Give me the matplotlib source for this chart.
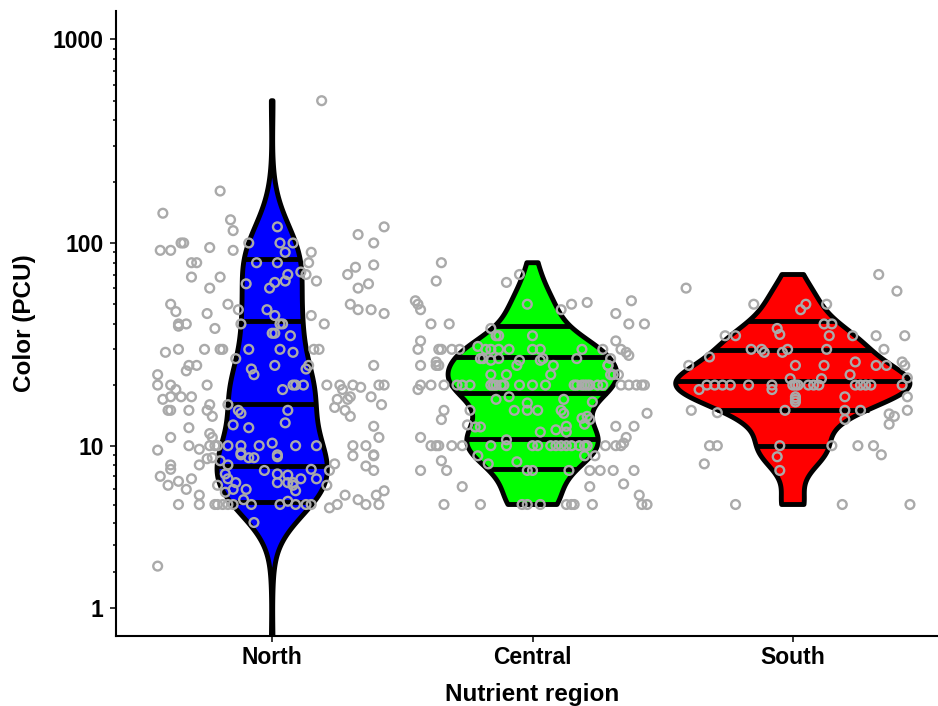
import numpy as np
import matplotlib.pyplot as plt

plt.rcParams['font.family'] = ['Liberation Sans', 'DejaVu Sans']
plt.rcParams['font.weight'] = 'bold'

regions = ['North', 'Central', 'South']
fill_colors = ['#0000FF', '#00FF00', '#FF0000']
quantile_probs = [0.1, 0.25, 0.5, 0.75, 0.9]

# Color (PCU) per sample; jitter = horizontal offset of each dot
north_pcu = [
    500, 180, 140, 130, 115, 120, 92, 92, 100, 100, 95, 92, 100, 100, 100, 90, 90, 110, 100, 120,
    80, 80, 80, 80, 80, 76, 78, 68, 68, 70, 65, 72, 70, 65, 70, 63, 64, 60, 60, 60, 63,
    50, 46, 50, 47, 45, 47, 44, 44, 40, 50, 47, 47, 45, 40, 40, 39, 38, 40, 40, 40, 36, 36, 35,
    29, 30, 30, 30, 30, 30, 30, 29, 30, 30, 27, 25, 24, 22.5, 25, 24, 25, 25, 23.5, 22.5, 20,
    25, 20, 19, 17.5, 20, 17.5, 17, 17.5, 19, 20, 20, 20, 20, 20, 19, 20, 19.5, 20, 20,
    17, 17, 17.5, 15.5, 15, 14, 17.5, 16, 15, 15, 15, 16, 15, 14, 16, 15, 14.5, 15,
    12.3, 12.7, 12.3, 13, 11, 11.5, 11, 12.5, 11, 9.5, 10, 9.6, 10, 10, 10, 10, 10, 9.2,
    10, 10.3, 9, 10, 10, 10, 10, 9,
    8.7, 8.6, 8, 8, 7.6, 7, 6.3, 6.6, 6.8, 6, 5.6, 5, 5, 5, 5, 5, 5, 8.4, 8, 7.2, 6.8, 6.5,
    6, 5.8, 6.3, 5, 9, 8.7, 8.7, 6, 5.3, 5, 4, 7.5, 8.8, 7.2, 6.5, 7.1, 6.5, 6.3, 5.9, 6.8,
    6.5, 5, 5.2, 5, 5, 5, 7.6, 6.8, 6.3, 7.5, 8.1, 4.8, 5, 8.9, 7.9, 7.5, 8.9, 5.6, 5.3, 5,
    5, 5.6, 5.9, 2.2, 0,
]
north_jitter = [
    0.19, -0.20, -0.42, -0.16, -0.15, 0.02, -0.43, -0.39, -0.35, -0.34, -0.24, -0.15, -0.09, 0.03, 0.08, 0.05, 0.15, 0.33, 0.39, 0.43,
    -0.31, -0.29, -0.06, 0.02, 0.14, 0.32, 0.39, -0.31, -0.20, 0.06, 0.05, 0.11, 0.13, 0.17, 0.29, -0.10, 0.01, -0.01, -0.24, 0.33, 0.37,
    -0.39, -0.37, -0.17, -0.13, -0.25, -0.02, 0.01, 0.15, 0.20, 0.30, 0.33, 0.38, 0.43, -0.36, -0.33, -0.36, -0.22, -0.12, 0.03, 0.04, 0.00, 0.01, 0.07,
    -0.41, -0.36, -0.26, -0.20, -0.19, -0.09, 0.03, 0.08, 0.16, 0.18, -0.14, 0.01, -0.08, -0.07, 0.14, 0.13, -0.32, -0.29, -0.33, -0.44, -0.44,
    0.39, -0.39, -0.37, -0.39, -0.25, -0.35, -0.42, -0.31, 0.04, 0.08, 0.09, 0.12, 0.21, 0.26, 0.27, 0.31, 0.34, 0.41, 0.43,
    0.25, 0.29, 0.30, 0.24, 0.28, 0.30, 0.38, 0.42, -0.40, -0.39, -0.32, -0.24, -0.25, -0.23, -0.17, -0.13, -0.12, 0.06,
    -0.32, -0.15, -0.09, 0.05, -0.39, -0.24, -0.23, 0.39, 0.41, -0.44, -0.32, -0.28, -0.24, -0.22, -0.21, -0.17, -0.12, -0.12,
    -0.05, 0.00, 0.02, 0.09, 0.17, 0.31, 0.36, 0.39,
    -0.23, -0.25, -0.28, -0.39, -0.39, -0.43, -0.40, -0.36, -0.31, -0.33, -0.28, -0.28, -0.36, -0.22, -0.21, -0.19, -0.17, -0.20, -0.17, -0.18, -0.17, -0.14,
    -0.15, -0.18, -0.21, -0.15, -0.12, -0.09, -0.07, -0.10, -0.11, -0.08, -0.07, -0.03, 0.02, 0.02, 0.02, 0.06, 0.06, 0.08, 0.09, 0.11,
    0.08, 0.03, 0.06, 0.09, 0.13, 0.15, 0.15, 0.17, 0.21, 0.22, 0.24, 0.22, 0.25, 0.31, 0.36, 0.39, 0.39, 0.28, 0.33, 0.36,
    0.41, 0.40, 0.43, -0.44, 0.00,
]

central_pcu = [
    80, 65, 70, 64, 50, 52, 50, 47, 40, 40, 47, 50, 51, 52, 45, 40, 40, 38, 35, 35, 35, 33, 33,
    30, 30, 30, 30, 30, 31, 30, 30, 30, 30, 30, 30, 30, 30, 30, 29, 28,
    25, 26, 25, 27, 26.5, 27, 26.5, 25, 26.5, 27, 27, 27, 25, 22.5, 22.5, 22.5, 25, 22.5, 22.5,
    20, 20, 20, 20, 20, 20, 20, 20, 20, 20, 20, 20, 20, 20, 20, 20, 20, 20, 20, 20, 20, 20, 20,
    20, 20, 20, 20, 25, 25, 22.5, 27,
    19, 17, 16.5, 17, 17.5, 15, 13.5, 15, 15, 15, 15, 16.3, 15, 14.5, 13.7, 14, 13.5, 12.8, 14.5,
    12.7, 12.4, 12.4, 11.7, 12, 12.5, 11.7, 12.5, 12.5, 11, 10.7, 10, 11, 10.3, 10,
    10, 10, 10, 10, 10, 10, 10, 10, 10, 10, 10, 10, 10, 10, 10, 10, 10, 10,
    8.4, 8.9, 8.1, 8.3, 8.9, 8.9,
    7.5, 7.5, 7.5, 7.5, 7.5, 7.5, 7.5, 7.5, 7.5,
    6.2, 6.2, 6.4, 5.6,
    5, 5, 5, 5, 5, 5, 5, 5, 5, 5, 5,
]
central_jitter = [
    -0.35, -0.37, -0.05, -0.10, -0.02, -0.45, -0.44, -0.43, -0.39, -0.32, 0.11, 0.15, 0.21, 0.38, 0.32, 0.37, 0.43, -0.16, -0.14, -0.13, 0.00, 0.32, -0.43,
    -0.44, -0.36, -0.35, -0.31, -0.28, -0.21, -0.18, -0.16, -0.13, -0.09, 0.00, 0.03, 0.19, 0.27, 0.34, 0.36, 0.37,
    -0.43, -0.37, -0.37, -0.20, -0.16, -0.13, -0.05, -0.06, 0.03, 0.04, 0.17, 0.30, 0.08, -0.16, -0.10, 0.07, 0.29, 0.30, 0.33,
    -0.43, -0.39, -0.34, -0.29, -0.27, -0.24, -0.16, -0.14, -0.12, -0.05, 0.00, 0.05, 0.16, 0.19, 0.20, 0.21, 0.25, 0.27, 0.34, 0.37, 0.40, 0.42, 0.43,
    -0.15, -0.11, 0.17, 0.22, -0.36, 0.29, 0.31, -0.19,
    -0.44, 0.12, 0.23, -0.14, -0.09, -0.34, -0.35, -0.24, -0.07, -0.02, 0.02, -0.02, 0.11, 0.12, 0.19, 0.21, 0.22, 0.20, 0.44,
    -0.25, -0.22, -0.20, 0.03, 0.09, 0.13, 0.13, 0.32, 0.39, -0.43, -0.10, -0.10, 0.36, 0.35, 0.34,
    -0.39, -0.37, -0.36, -0.31, -0.27, -0.16, 0.00, 0.02, 0.07, 0.09, 0.11, 0.13, 0.15, 0.18, 0.20, 0.21, 0.28, 0.32,
    -0.35, -0.21, -0.17, -0.06, 0.20, 0.24,
    -0.43, -0.33, -0.02, 0.00, 0.14, 0.22, 0.26, 0.31, 0.39,
    -0.27, 0.22, 0.35, 0.41,
    -0.34, -0.20, -0.04, -0.02, 0.03, 0.13, 0.15, 0.16, 0.23, 0.42, 0.44,
]

south_pcu = [
    60, 70, 58, 50, 47, 50, 50, 40, 40, 38, 35.5, 35, 35, 35, 35, 35, 35,
    30, 30, 29, 29, 30, 30, 30, 27.5, 25, 25, 25, 26, 25, 25, 26, 25, 21.5, 21.5, 22.5, 21.7,
    20, 20, 20, 20, 20, 20, 20, 20, 20, 20, 20, 20, 20, 20, 20, 20, 20,
    19, 19, 17.5, 17, 16.5, 15, 15, 14.6, 17.5, 15, 15, 13.5, 17.5, 15, 14.4, 14, 12.8,
    10, 10, 10, 10, 10, 10, 9, 8.1, 8.8, 7.5, 5, 5, 5,
]
south_jitter = [
    -0.41, 0.33, 0.40, -0.15, 0.03, 0.05, 0.13, 0.12, 0.15, -0.06, -0.05, -0.26, -0.22, 0.14, 0.23, 0.32, 0.43,
    -0.16, -0.12, -0.11, -0.04, -0.02, 0.13, 0.35, -0.32, -0.40, 0.01, 0.12, 0.24, 0.32, 0.36, 0.42, 0.43, -0.01, 0.11, 0.22, 0.44,
    -0.33, -0.30, -0.27, -0.24, -0.17, -0.08, 0.00, 0.01, 0.02, 0.06, 0.08, 0.10, 0.24, 0.26, 0.28, 0.30, 0.42,
    -0.36, -0.08, 0.01, 0.01, 0.01, -0.03, -0.39, -0.29, 0.20, 0.20, 0.26, 0.20, 0.44, 0.44, 0.37, 0.39, 0.37,
    -0.32, -0.29, -0.05, 0.15, 0.25, 0.31, 0.34, -0.34, -0.06, -0.05, -0.22, 0.19, 0.45,
]

pcu = [north_pcu, central_pcu, south_pcu]
jitter = [north_jitter, central_jitter, south_jitter]


# pseudo-log axis (asinh), like ggplot's pseudo_log_trans
def fwd(y):
    return np.arcsinh(np.asarray(y, dtype=float) / 2.0)


def inv(t):
    return 2.0 * np.sinh(np.asarray(t, dtype=float))


def nrd0(t):
    sd = np.std(t, ddof=1)
    q75, q25 = np.percentile(t, [75, 25])
    lo = min(sd, (q75 - q25) / 1.34)
    if lo <= 0:
        lo = sd
    return 0.9 * lo * len(t) ** -0.2


def kde(values):
    t = fwd(values)
    h = nrd0(t)
    grid = np.linspace(t.min(), t.max(), 512)
    z = (grid[:, None] - t[None, :]) / h
    dens = np.exp(-0.5 * z ** 2).sum(axis=1) / (len(t) * h * np.sqrt(2 * np.pi))
    return grid, dens


fig = plt.figure(figsize=(9.38, 7.06), dpi=100)
ax = fig.add_axes([116 / 938, 1 - 636 / 706, 833 / 938, 625 / 706])
ax.set_yscale('function', functions=(fwd, inv))

dens_all = [kde(v) for v in pcu]
dmax = max(d.max() for _, d in dens_all)

for i, ((grid, dens), col) in enumerate(zip(dens_all, fill_colors)):
    pos = i + 1
    half = dens / dmax * 0.45
    yy = inv(grid)
    xs = np.concatenate([pos - half, (pos + half)[::-1]])
    ys = np.concatenate([yy, yy[::-1]])
    ax.fill(xs, ys, facecolor=col, edgecolor='black', linewidth=3.5,
            joinstyle='round', zorder=2)
    cdf = np.cumsum(dens) / dens.sum()
    tq = np.interp(quantile_probs, cdf, grid)
    hq = np.interp(tq, grid, half)
    for t_, h_ in zip(tq, hq):
        ax.plot([pos - h_, pos + h_], [inv(t_), inv(t_)], color='black',
                linewidth=3.5, solid_capstyle='butt', zorder=2.5)

for i in range(3):
    ax.scatter(i + 1 + np.array(jitter[i]), pcu[i], s=40, facecolors='none',
               edgecolors='#AAAAAA', linewidths=1.7, zorder=3)

t_lo, t_hi = fwd(1), fwd(1000)
pad = 0.05 * (t_hi - t_lo)
ax.set_ylim(inv(t_lo - pad), inv(t_hi + pad))
ax.set_xlim(0.4, 3.6)

ax.set_yticks([1, 10, 100, 1000])
ax.set_yticklabels(['1', '10', '100', '1000'])
ax.set_yticks([m * d for d in (1, 10, 100) for m in range(2, 10)], minor=True)
ax.set_xticks([1, 2, 3])
ax.set_xticklabels(regions)

for s in ['top', 'right']:
    ax.spines[s].set_visible(False)
for s in ['left', 'bottom']:
    ax.spines[s].set_linewidth(1.5)

ax.tick_params(axis='both', which='major', length=4, width=1.1,
               labelsize=16.5, colors='black')
ax.tick_params(axis='y', which='major', pad=5)
ax.tick_params(axis='x', which='major', pad=3)
ax.tick_params(axis='y', which='minor', length=2.4, width=1.1)

ax.set_xlabel('Nutrient region', fontsize=17.5, fontweight='bold', labelpad=10)
ax.set_ylabel('Color (PCU)', fontsize=17.5, fontweight='bold', labelpad=12)

fig.savefig('out.png', dpi=100)
